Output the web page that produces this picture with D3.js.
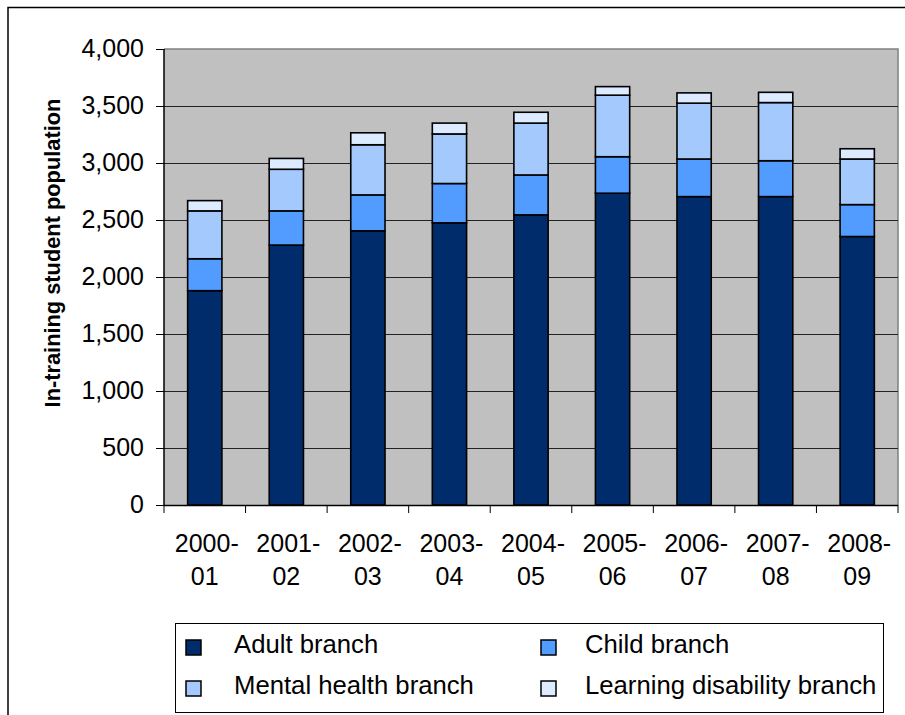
<!DOCTYPE html>
<html><head><meta charset="utf-8">
<script src="https://cdn.jsdelivr.net/npm/d3@7"></script>
<style>html,body{margin:0;padding:0;background:#fff}svg{display:block}text{font-family:Arial,"Liberation Sans",sans-serif}</style>
</head><body>
<svg id="c" width="905" height="715"></svg>
<script>
const categories = ["2000-01","2001-02","2002-03","2003-04","2004-05","2005-06","2006-07","2007-08","2008-09"];
const seriesNames = ["Adult branch","Child branch","Mental health branch","Learning disability branch"];
const adult   = [1880, 2280, 2405, 2475, 2545, 2735, 2705, 2705, 2355];
const child   = [280, 300, 315, 345, 350, 320, 330, 315, 280];
const mental  = [420, 365, 440, 435, 455, 540, 490, 510, 400];
const learning= [90, 95, 105, 95, 95, 75, 90, 90, 90];
const yTicks  = [0,500,1000,1500,2000,2500,3000,3500,4000];
const colors  = ["#002C6B","#529CFF","#A3C9FD","#DCEBFF"];

const svg = d3.select("#c");
const m = {left:164, right:898, top:49, bottom:505};

// outer border
svg.append("path").attr("d","M8,716 L8,7.5 L906,7.5").attr("fill","none").attr("stroke","#000").attr("stroke-width",1.5);

const x = d3.scaleBand().domain(categories).range([m.left,m.right]).paddingInner(0.58).paddingOuter(0.29);
const y = d3.scaleLinear().domain([0,4000]).range([m.bottom,m.top]);

svg.append("rect").attr("x",m.left).attr("y",m.top).attr("width",m.right-m.left).attr("height",m.bottom-m.top).attr("fill","#C0C0C0");
svg.append("path").attr("d",`M${m.left},${m.top} L${m.right},${m.top} L${m.right},${m.bottom}`).attr("fill","none").attr("stroke","#808080").attr("stroke-width",1.5);

// gridlines
svg.append("g").selectAll("line").data(yTicks.filter(d=>d>0 && d<4000)).join("line")
  .attr("x1",m.left).attr("x2",m.right).attr("y1",d=>Math.round(y(d))+0.5).attr("y2",d=>Math.round(y(d))+0.5)
  .attr("stroke","#222").attr("stroke-width",1);

// stacks
const rows = categories.map((c,i)=>({cat:c, "Adult branch":adult[i], "Child branch":child[i], "Mental health branch":mental[i], "Learning disability branch":learning[i]}));
const stacked = d3.stack().keys(seriesNames)(rows);
svg.append("g").selectAll("g").data(stacked).join("g").attr("fill",(d,i)=>colors[i])
  .selectAll("rect").data(d=>d).join("rect")
  .attr("x",d=>x(d.data.cat)).attr("width",x.bandwidth())
  .attr("y",d=>y(d[1])).attr("height",d=>y(d[0])-y(d[1]))
  .attr("stroke","#000").attr("stroke-width",1.6);

// y axis
const yAxis = d3.axisLeft(y).tickValues(yTicks).tickFormat(d3.format(",")).tickSize(8).tickPadding(12);
const gy = svg.append("g").attr("transform",`translate(${m.left},0)`).call(yAxis);
gy.select(".domain").attr("stroke","#000").attr("stroke-width",1.5).attr("d",`M0,${m.top}V${m.bottom}`);
gy.selectAll(".tick line").attr("stroke","#000");
gy.selectAll(".tick text").attr("font-size",25).attr("fill","#000").attr("dy","0.3em")
  .style("font-family","Arial, 'Liberation Sans', sans-serif");

// x axis: ticks at band boundaries
const bounds = categories.map(c=>x(c)-x.step()*x.paddingInner()/2).concat([m.right]);
svg.append("line").attr("x1",m.left).attr("x2",m.right).attr("y1",m.bottom+0.5).attr("y2",m.bottom+0.5).attr("stroke","#000").attr("stroke-width",1.5);
svg.append("g").selectAll("line").data(bounds).join("line")
  .attr("x1",d=>d).attr("x2",d=>d).attr("y1",m.bottom).attr("y2",m.bottom+8).attr("stroke","#000");
const xl = svg.append("g").selectAll("text").data(categories).join("text")
  .attr("x",d=>x(d)+x.bandwidth()/2).attr("y",552).attr("text-anchor","middle").attr("font-size",25).attr("fill","#000");
xl.append("tspan").attr("x",d=>x(d)+x.bandwidth()/2+2).text(d=>d.split("-")[0]+"-");
xl.append("tspan").attr("x",d=>x(d)+x.bandwidth()/2).attr("dy",33).text(d=>d.split("-")[1]);

// y title
svg.append("text").attr("transform","translate(60,253) rotate(-90)").attr("text-anchor","middle")
  .attr("font-size",21.8).attr("font-weight","bold").attr("fill","#000").text("In-training student population");

// legend
const lg = svg.append("g");
lg.append("rect").attr("x",175.5).attr("y",623.5).attr("width",708).attr("height",89).attr("fill","#fff").attr("stroke","#000").attr("stroke-width",1);
const legPos = [[186,640,234,653],[541,640,585,653],[186,681,234,694],[541,681,585,694]];
seriesNames.forEach((s,i)=>{
  const p = legPos[i];
  lg.append("rect").attr("x",p[0]).attr("y",p[1]).attr("width",15).attr("height",15).attr("fill",colors[i]).attr("stroke","#000").attr("stroke-width",1.5);
  lg.append("text").attr("x",p[2]).attr("y",p[3]).attr("font-size",25.7).attr("fill","#000").text(s);
});
</script>
</body></html>
